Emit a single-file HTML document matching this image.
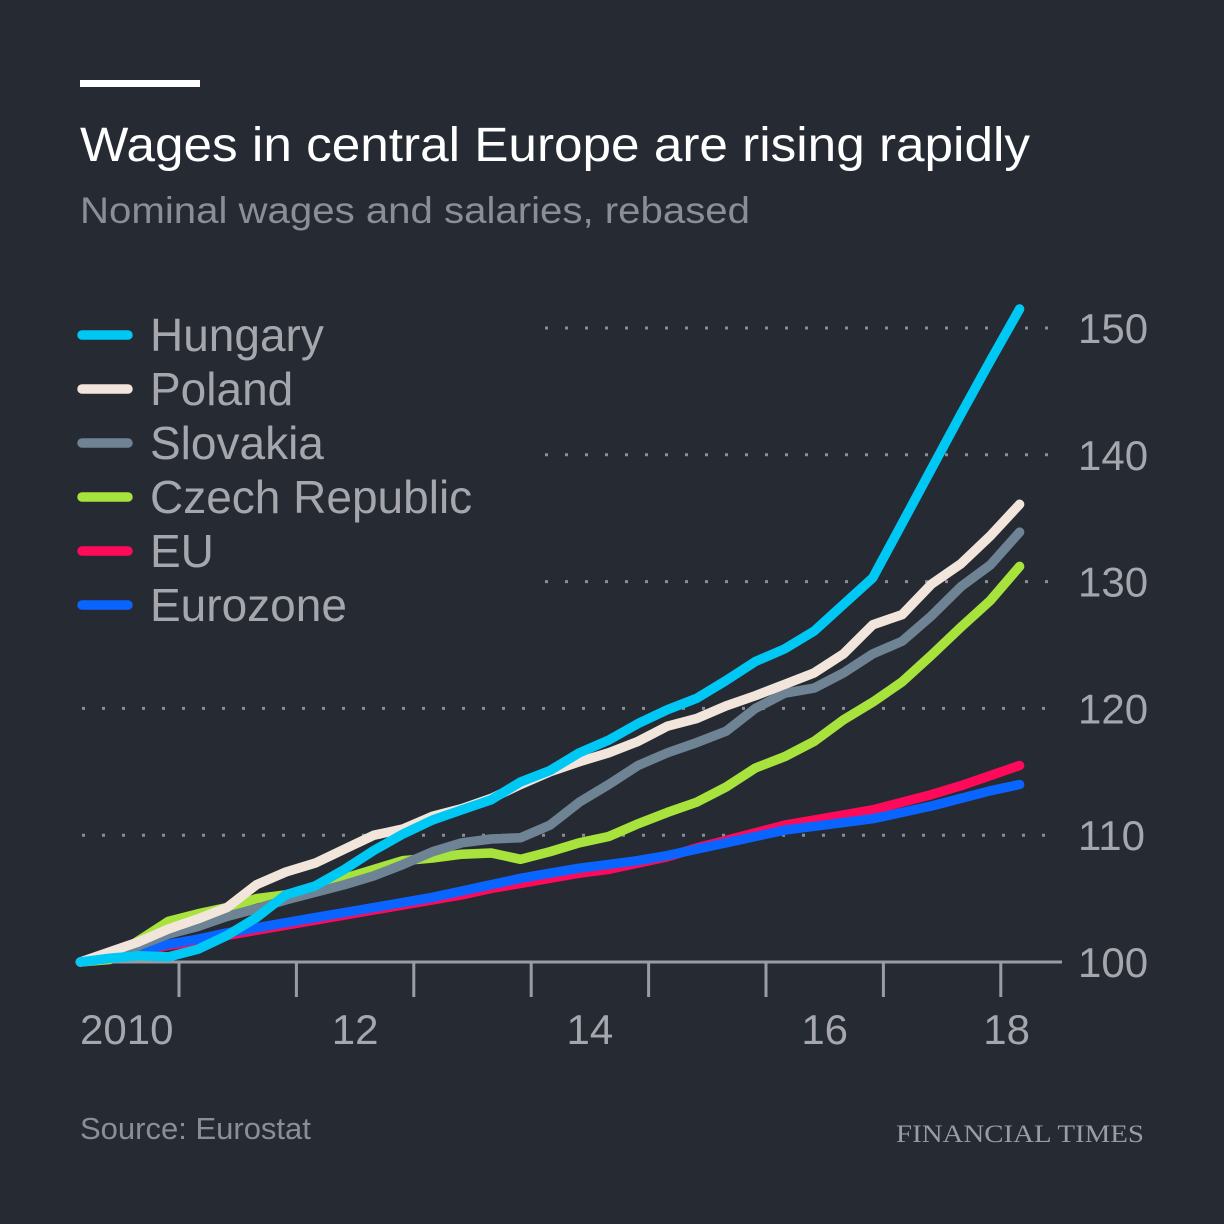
<!DOCTYPE html>
<html><head><meta charset="utf-8"><style>
html,body{margin:0;padding:0;background:#262a33;}
svg{display:block;font-family:"Liberation Sans",sans-serif;}
</style></head><body>
<svg id="chart" width="1224" height="1224" viewBox="0 0 1224 1224">
<rect width="1224" height="1224" fill="#262a33"/>
<rect x="80" y="80" width="120" height="7" fill="#ffffff"/>
<text x="80" y="161" font-size="48" fill="#ffffff" textLength="950" lengthAdjust="spacingAndGlyphs">Wages in central Europe are rising rapidly</text>
<text x="80" y="223" font-size="37" fill="#8b8e96" textLength="670" lengthAdjust="spacingAndGlyphs">Nominal wages and salaries, rebased</text>
<g id="grid"></g>
<g id="axis"></g>
<g id="lines"></g>
<g id="legend"></g>
<text x="80" y="1139" font-size="31" fill="#8b8e96">Source: Eurostat</text>
<text x="1144" y="1142" font-size="25" fill="#9a9ca3" text-anchor="end" font-family="Liberation Serif, serif" textLength="248" lengthAdjust="spacingAndGlyphs">FINANCIAL TIMES</text>
</svg>
<script>
const NS = "http://www.w3.org/2000/svg";
const startYear = 2010.16;
const hungary = [100,100.3,100.5,100.4,101,102.1,103.5,105.3,106,107.3,108.8,110.1,111.2,112,112.8,114.2,115.1,116.5,117.5,118.8,119.9,120.8,122.2,123.7,124.7,126.1,128.2,130.3,134.6,138.9,143.2,147.4,151.5];
const poland = [100,100.8,101.6,102.6,103.4,104.3,106.1,107.1,107.8,108.9,110,110.5,111.5,112.1,112.9,114,115,115.8,116.5,117.4,118.6,119.2,120.2,121,121.9,122.8,124.3,126.6,127.4,129.8,131.4,133.6,136.1];
const slovakia = [100,100.3,101.3,102.2,102.8,103.6,104.2,104.9,105.5,106.1,106.8,107.7,108.7,109.4,109.7,109.8,110.8,112.6,114,115.5,116.5,117.3,118.2,120,121.2,121.6,122.8,124.3,125.3,127.3,129.6,131.3,133.9];
const czech = [100,100.2,101.7,103.2,103.8,104.3,105,105.3,105.9,106.6,107.3,108,108.2,108.5,108.6,108.1,108.7,109.4,109.9,110.9,111.8,112.6,113.8,115.3,116.2,117.4,119.1,120.5,122.1,124.2,126.4,128.5,131.2];
const eu = [100,100.4,100.8,101.3,101.6,102.1,102.5,102.9,103.3,103.7,104.1,104.5,104.9,105.3,105.8,106.2,106.6,107.0,107.3,107.8,108.3,109.0,109.6,110.2,110.8,111.2,111.6,112.0,112.6,113.2,113.9,114.7,115.5];
const eurozone = [100,100.4,100.9,101.4,101.8,102.3,102.7,103.1,103.5,103.9,104.3,104.7,105.1,105.6,106.1,106.6,107.0,107.4,107.7,108.0,108.4,108.9,109.4,109.9,110.4,110.7,111.0,111.3,111.8,112.3,112.9,113.5,114.0];
const seriesNames = ["Hungary","Poland","Slovakia","Czech Republic","EU","Eurozone"];
const seriesColors = ["#00c8f5","#f2e6dc","#6e8393","#a8e23c","#ff0a5a","#0a64ff"];
const seriesData = [hungary,poland,slovakia,czech,eu,eurozone];
const drawOrder = [4,5,3,2,1,0];
const yTicks = [100,110,120,130,140,150];
const xTickYears = [2011,2012,2013,2014,2015,2016,2017,2018];
const xLabels = ["2010","12","14","16","18"];
const xLabelYears = [2010.5,2012.5,2014.5,2016.5,2018.05];

const x = yr => 179 + (yr - 2011) * 117.4;
const y = v => 962 - (v - 100) * 12.68;
const qx = i => x(startYear + i * 0.25);

function mk(tag, attrs, parent){const e=document.createElementNS(NS,tag);for(const k in attrs)e.setAttribute(k,attrs[k]);parent.appendChild(e);return e;}
const grid=document.getElementById("grid"), axis=document.getElementById("axis"), lines=document.getElementById("lines"), legend=document.getElementById("legend");

yTicks.forEach(t=>{
  if(t>100){
    const x0 = t>=130 ? 545 : 82;
    const g = mk("line",{x1:x0,x2:1050,y1:y(t),y2:y(t),stroke:"#8a8d94","stroke-width":3,"stroke-dasharray":"3 17"},grid);
    
    
  }
  const tl = mk("text",{x:1078,y:y(t)+15,"font-size":42,fill:"#a5a7ad"},axis);
  tl.textContent=t;
  
  
});
const base = mk("line",{x1:80,x2:1062,y1:y(100),y2:y(100),stroke:"#9a9ca3","stroke-width":3},axis);


xTickYears.forEach(yr=>{
  const t = mk("line",{x1:x(yr),x2:x(yr),y1:y(100),y2:y(100)+35,stroke:"#9a9ca3","stroke-width":3},axis);
  
  
});
xLabels.forEach((lab,i)=>{
  const first = i===0;
  const tl = mk("text",{x:first?80:x(xLabelYears[i]),y:1044,"font-size":42,fill:"#a5a7ad","text-anchor":first?"start":"middle"},axis);
  tl.textContent=lab;
  
  
});
drawOrder.forEach(s=>{
  const d = seriesData[s].map((v,i)=>(i?"L":"M")+qx(i).toFixed(1)+","+y(v).toFixed(1)).join(" ");
  const p = mk("path",{d:d,fill:"none",stroke:seriesColors[s],"stroke-width":9.5,"stroke-linecap":"round","stroke-linejoin":"round"},lines);
  
  
});
seriesNames.forEach((n,i)=>{
  const ly = 335 + i*54;
  const g = mk("g",{},legend);
  
  
  mk("line",{x1:82,x2:128,y1:ly,y2:ly,stroke:seriesColors[i],"stroke-width":9.5,"stroke-linecap":"round"},g);
  const t = mk("text",{x:150,y:ly+16,"font-size":46,fill:"#a5a7ad"},g);
  t.textContent=n;
});
</script>
</body></html>
